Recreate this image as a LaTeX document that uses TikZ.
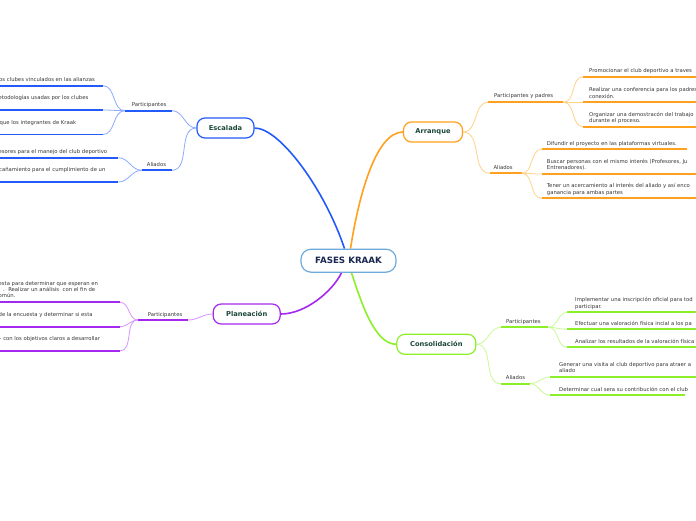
\documentclass[tikz,border=0pt]{standalone}
\usepackage{fontspec}
\setmainfont{DejaVu Sans}
\usetikzlibrary{backgrounds}
\definecolor{cblue}{RGB}{35,90,250}
\definecolor{lblue}{RGB}{140,170,255}
\definecolor{corange}{RGB}{255,160,30}
\definecolor{lorange}{RGB}{255,210,140}
\definecolor{cpurple}{RGB}{165,40,240}
\definecolor{lpurple}{RGB}{215,150,255}
\definecolor{cgreen}{RGB}{140,240,40}
\definecolor{lgreen}{RGB}{200,250,150}
\definecolor{cborder}{RGB}{110,170,220}
\definecolor{ttext}{RGB}{28,72,58}
\definecolor{ltext}{RGB}{55,55,55}
\definecolor{ctext}{RGB}{25,40,80}
\tikzset{
 topic/.style={draw, fill=white, rounded corners=8pt, line width=1.2pt, minimum height=20pt, inner sep=0pt, font=\fontsize{6.7}{8}\selectfont\bfseries, text=ttext},
 leaf/.style={inner sep=0pt, anchor=base west, font=\fontsize{5.3}{6.4}\selectfont, text=ltext},
 uline/.style={line width=1.8pt},
 sublink/.style={line width=0.8pt},
 mainlink/.style={line width=1.6pt},
}
\begin{document}
\begin{tikzpicture}[x=1pt,y=-1pt]
\useasboundingbox (0,0) rectangle (696,520);
% central
\node[draw=cborder, fill=white, line width=1.2pt, rounded corners=10pt, minimum width=95pt, minimum height=23pt, inner sep=0pt, font=\fontsize{8.7}{10}\selectfont\bfseries, text=ctext] (root) at (348.5,260.7) {FASES KRAAK};
% main topics
\node[topic,draw=cblue,minimum width=57pt] (esc) at (225.5,128) {Escalada};
\node[topic,draw=corange,minimum width=59pt] (arr) at (433,132) {Arranque};
\node[topic,draw=cpurple,minimum width=67pt] (pla) at (246.7,314) {Planeación};
\node[topic,draw=cgreen,minimum width=79pt] (con) at (436.3,344.3) {Consolidación};

% ---------- Escalada ----------
\node[leaf] (escP) at (131.7,106) {Participantes};
\coordinate (escPl) at (125,110.7); \coordinate (escPr) at (172,110.7);
\node[leaf] (escP1) at (-1,81) {os clubes vinculados en las alianzas};
\coordinate (escP1l) at (-5,85.7); \coordinate (escP1r) at (103,85.7);
\node[leaf] (escP2) at (-1.5,99.3) {etodologías usadas por los clubes};
\coordinate (escP2l) at (-5,110); \coordinate (escP2r) at (103,110);
\node[leaf] (escP3) at (-0.5,124.3) {que los integrantes de Kraak};
\coordinate (escP3l) at (-5,134.5); \coordinate (escP3r) at (103,134.5);
\node[leaf] (escA) at (146.7,166) {Aliados};
\coordinate (escAl) at (141.7,170.3); \coordinate (escAr) at (171.7,170.3);
\node[leaf] (escA1) at (-1.5,153.3) {esores para el manejo del club deportivo};
\coordinate (escA1l) at (-5,157.7); \coordinate (escA1r) at (118.3,157.7);
\node[leaf] (escA2) at (-1,171) {cañamiento para el cumplimiento de un};
\coordinate (escA2l) at (-5,182); \coordinate (escA2r) at (118.3,182);
\draw[uline,cblue] (escPl) -- (escPr) (escAl) -- (escAr)
  (escP1l) -- (escP1r) (escP2l) -- (escP2r) (escP3l) -- (escP3r)
  (escA1l) -- (escA1r) (escA2l) -- (escA2r);

% ---------- Planeacion ----------
\node[leaf] (plaP) at (147.7,316) {Participantes};
\coordinate (plaPl) at (138,320); \coordinate (plaPr) at (188,320);
\node[leaf] (plaP1a) at (-1.5,285.3) {esta para determinar que esperan en};
\node[leaf] (plaP1b) at (3,291.3) {.\ \ Realizar un análisis\ \ con el fin de};
\node[leaf] (plaP1c) at (-1.5,297.3) {omún.};
\coordinate (plaP1l) at (-5,302.3); \coordinate (plaP1r) at (120,302.3);
\node[leaf] (plaP2) at (-1.5,316) {de la encuesta y determinar si esta};
\coordinate (plaP2l) at (-5,326.7); \coordinate (plaP2r) at (120,326.7);
\node[leaf] (plaP3) at (-0.5,340.3) {- con los objetivos claros a desarrollar};
\coordinate (plaP3l) at (-5,350.7); \coordinate (plaP3r) at (120,350.7);
\draw[uline,cpurple] (plaPl) -- (plaPr)
  (plaP1l) -- (plaP1r) (plaP2l) -- (plaP2r) (plaP3l) -- (plaP3r);

% ---------- Arranque ----------
\node[leaf] (arrP) at (494,97.6) {Participantes y padres};
\coordinate (arrPl) at (488.3,102.3); \coordinate (arrPr) at (563.3,102.3);
\node[leaf] (arrP1) at (589,72.5) {Promocionar el club deportivo a traves};
\coordinate (arrP1l) at (583.3,76.7); \coordinate (arrP1r) at (700,76.7);
\node[leaf] (arrP2a) at (589,91.6) {Realizar una conferencia para los padres};
\node[leaf] (arrP2b) at (589,98) {conexión.};
\coordinate (arrP2l) at (583.3,102.3); \coordinate (arrP2r) at (700,102.3);
\node[leaf] (arrP3a) at (589,116) {Organizar una demostracón del trabajo};
\node[leaf] (arrP3b) at (589,122.4) {durante el proceso.};
\coordinate (arrP3l) at (583.3,126.7); \coordinate (arrP3r) at (700,126.7);
\node[leaf] (arrA) at (493.3,169.3) {Aliados};
\coordinate (arrAl) at (490,173.3); \coordinate (arrAr) at (521.7,173.3);
\node[leaf] (arrA1) at (546.7,145) {Difundir el proyecto en las plataformas virtuales.};
\coordinate (arrA1l) at (541.7,149.3); \coordinate (arrA1r) at (686.7,149.3);
\node[leaf] (arrA2a) at (546.7,163.3) {Buscar personas con el mismo interés (Profesores, Ju};
\node[leaf] (arrA2b) at (546.7,169.7) {Entrenadores).};
\coordinate (arrA2l) at (541.7,174); \coordinate (arrA2r) at (700,174);
\node[leaf] (arrA3a) at (546.7,187.7) {Tener un acercamiento al interés del aliado y así enco};
\node[leaf] (arrA3b) at (546.7,194) {ganancia para ambas partes};
\coordinate (arrA3l) at (541.7,198.3); \coordinate (arrA3r) at (700,198.3);
\draw[uline,corange] (arrPl) -- (arrPr) (arrAl) -- (arrAr)
  (arrP1l) -- (arrP1r) (arrP2l) -- (arrP2r) (arrP3l) -- (arrP3r)
  (arrA1l) -- (arrA1r) (arrA2l) -- (arrA2r) (arrA3l) -- (arrA3r);

% ---------- Consolidacion ----------
\node[leaf] (conP) at (506,323) {Participantes};
\coordinate (conPl) at (500.7,327.3); \coordinate (conPr) at (548.3,327.3);
\node[leaf] (conP1a) at (575,301.6) {Implementar una inscripción oficial para tod};
\node[leaf] (conP1b) at (575,308) {participar.};
\coordinate (conP1l) at (567.3,312.3); \coordinate (conP1r) at (700,312.3);
\node[leaf] (conP2) at (575,325) {Efectuar una valoración física incial a los pa};
\coordinate (conP2l) at (567.3,329.3); \coordinate (conP2r) at (700,329.3);
\node[leaf] (conP3) at (575,343) {Analizar los resultados de la valoración física};
\coordinate (conP3l) at (567.3,347.3); \coordinate (conP3r) at (700,347.3);
\node[leaf] (conA) at (505.7,379.4) {Aliados};
\coordinate (conAl) at (500.7,383.7); \coordinate (conAr) at (530,383.7);
\node[leaf] (conA1a) at (559,366.4) {Generar una visita al club deportivo para atraer a};
\node[leaf] (conA1b) at (559,372.7) {aliado};
\coordinate (conA1l) at (550,377); \coordinate (conA1r) at (700,377);
\node[leaf] (conA2) at (559,391) {Determinar cual sera su contribución con el club};
\coordinate (conA2l) at (550,395.3); \coordinate (conA2r) at (685,395.3);
\draw[uline,cgreen] (conPl) -- (conPr) (conAl) -- (conAr)
  (conP1l) -- (conP1r) (conP2l) -- (conP2r) (conP3l) -- (conP3r)
  (conA1l) -- (conA1r) (conA2l) -- (conA2r);

% ---------- connectors ----------
\begin{scope}[on background layer]
\fill[white] (0,0) rectangle (696,520);
\draw[mainlink,cblue] ([xshift=-4pt]root.north) .. controls (325,190) and (280,128) .. (esc.east);
\draw[mainlink,corange] ([xshift=2pt]root.north) .. controls (358,200) and (375,132) .. (arr.west);
\draw[mainlink,cpurple] ([xshift=-7pt]root.south) .. controls (332,292) and (305,314) .. (pla.east);
\draw[mainlink,cgreen] ([xshift=3pt]root.south) .. controls (362,305) and (375,344) .. (con.west);
\draw[sublink,lblue] (esc.west) to[out=180,in=0] (escPr);
\draw[sublink,lblue] (esc.west) to[out=180,in=0] (escAr);
\draw[sublink,lblue] (escPl) to[out=180,in=0] (escP1r);
\draw[sublink,lblue] (escPl) to[out=180,in=0] (escP2r);
\draw[sublink,lblue] (escPl) to[out=180,in=0] (escP3r);
\draw[sublink,lblue] (escAl) to[out=180,in=0] (escA1r);
\draw[sublink,lblue] (escAl) to[out=180,in=0] (escA2r);
\draw[sublink,lpurple] (pla.west) to[out=180,in=0] (plaPr);
\draw[sublink,lpurple] (plaPl) to[out=180,in=0] (plaP1r);
\draw[sublink,lpurple] (plaPl) to[out=180,in=0] (plaP2r);
\draw[sublink,lpurple] (plaPl) to[out=180,in=0] (plaP3r);
\draw[sublink,lorange] (arr.east) to[out=0,in=180] (arrPl);
\draw[sublink,lorange] (arr.east) to[out=0,in=180] (arrAl);
\draw[sublink,lorange] (arrPr) to[out=0,in=180] (arrP1l);
\draw[sublink,lorange] (arrPr) to[out=0,in=180] (arrP2l);
\draw[sublink,lorange] (arrPr) to[out=0,in=180] (arrP3l);
\draw[sublink,lorange] (arrAr) to[out=0,in=180] (arrA1l);
\draw[sublink,lorange] (arrAr) to[out=0,in=180] (arrA2l);
\draw[sublink,lorange] (arrAr) to[out=0,in=180] (arrA3l);
\draw[sublink,lgreen] (con.east) to[out=0,in=180] (conPl);
\draw[sublink,lgreen] (con.east) to[out=0,in=180] (conAl);
\draw[sublink,lgreen] (conPr) to[out=0,in=180] (conP1l);
\draw[sublink,lgreen] (conPr) to[out=0,in=180] (conP2l);
\draw[sublink,lgreen] (conPr) to[out=0,in=180] (conP3l);
\draw[sublink,lgreen] (conAr) to[out=0,in=180] (conA1l);
\draw[sublink,lgreen] (conAr) to[out=0,in=180] (conA2l);
\end{scope}
\end{tikzpicture}
\end{document}
